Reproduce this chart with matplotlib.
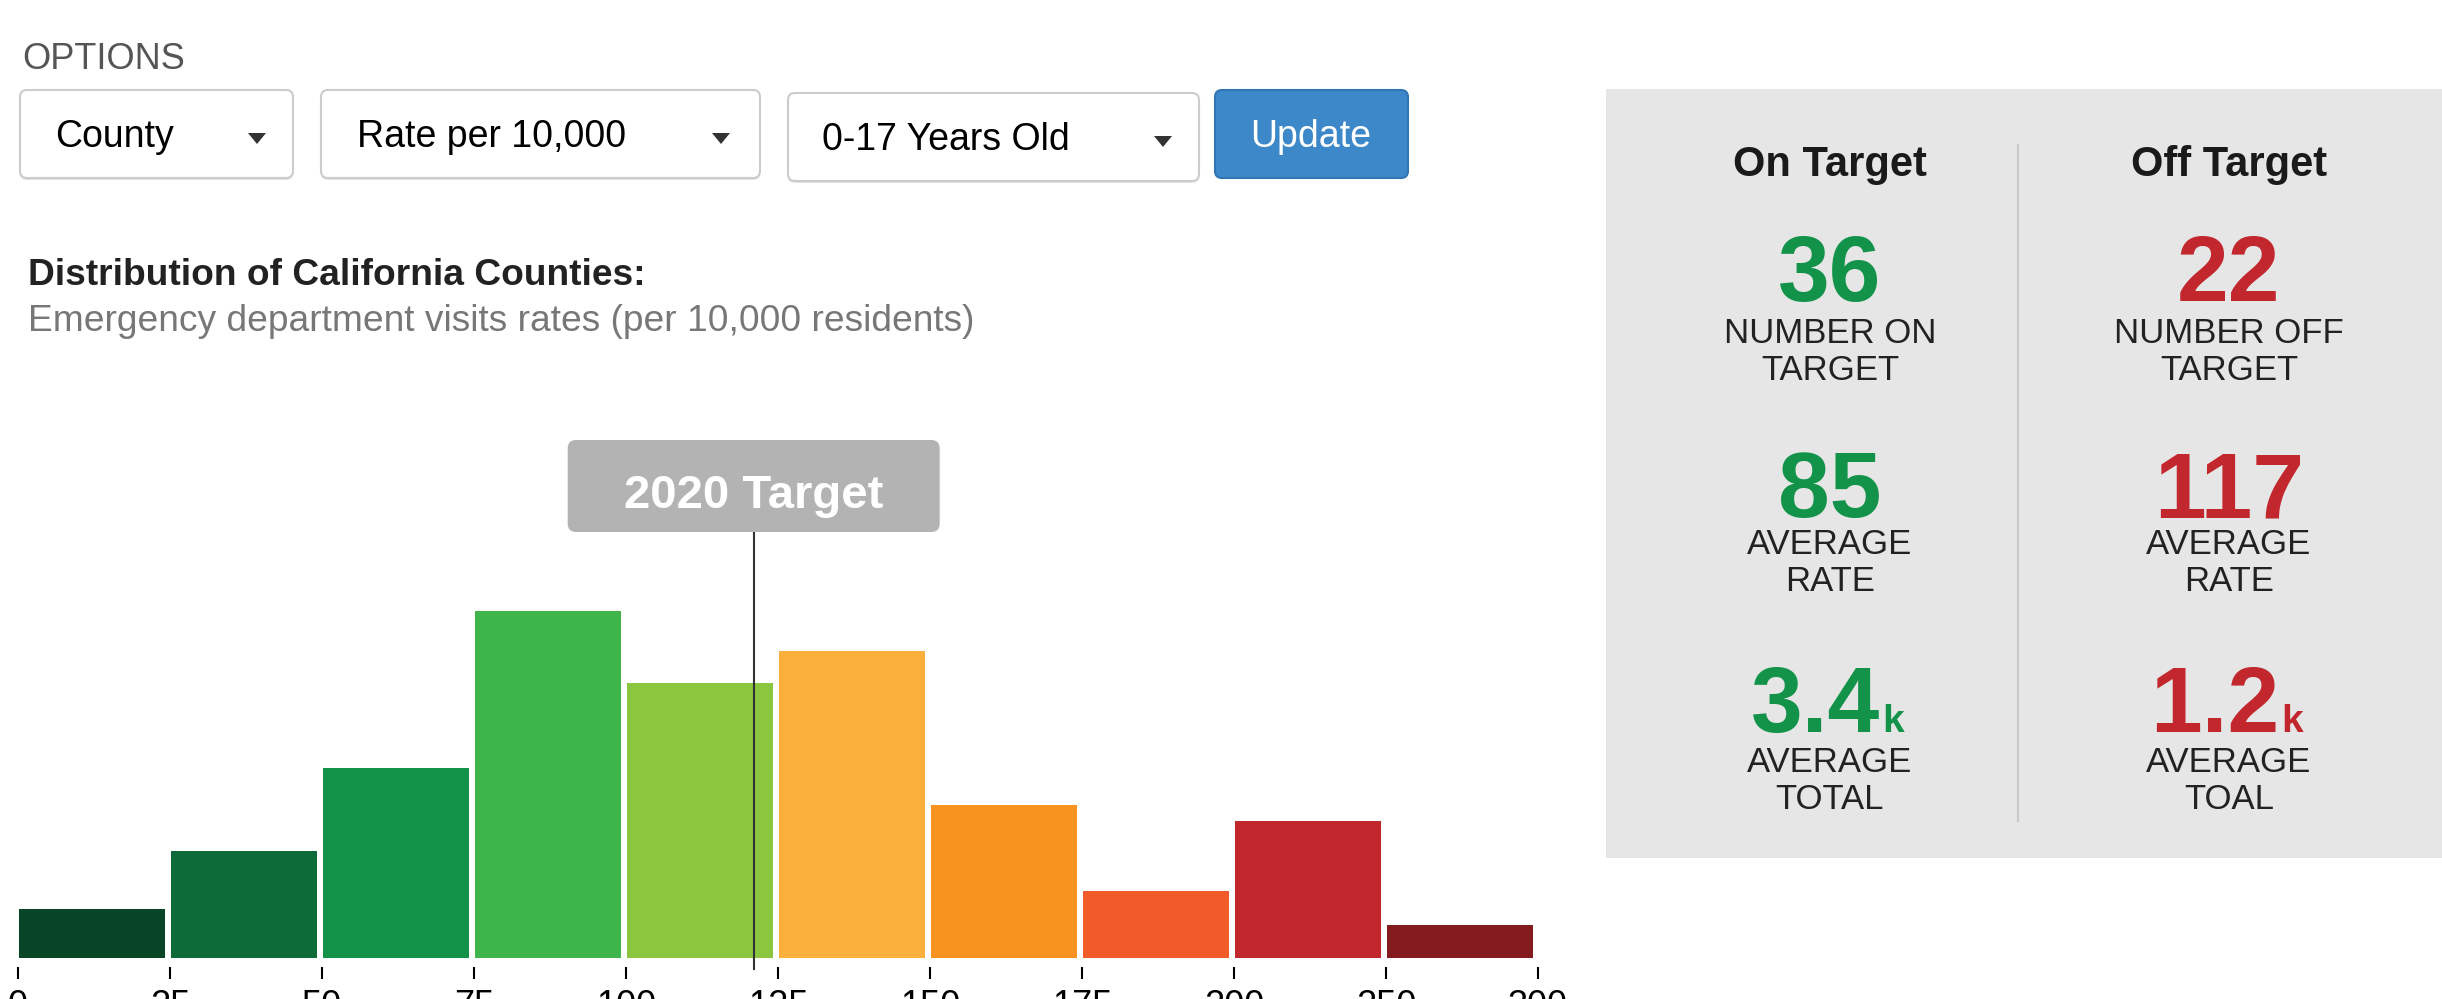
import numpy as np
import matplotlib
matplotlib.use("Agg")
import matplotlib.pyplot as plt
from matplotlib.patches import FancyBboxPatch, Rectangle, Polygon

plt.rcParams['font.family'] = ['Liberation Sans', 'DejaVu Sans']

# histogram of county rates (relative bar heights)
bin_edges = [0, 25, 50, 75, 100, 125, 150, 175, 200, 250, 300]
bar_heights = [4.9, 10.7, 19.0, 34.7, 27.5, 30.7, 15.3, 6.7, 13.7, 3.3]
bar_colors = ['#084527', '#0d6b3a', '#13934a', '#3db54a', '#8cc63f',
              '#fbb03b', '#f7931e', '#f15a29', '#c1272d', '#841b1f']
target_rate = 121
target_label = "2020 Target"

# dropdowns
dropdown_labels = ["County", "Rate per 10,000", "0-17 Years Old"]
button_label = "Update"

# summary panel
panel_heads = ["On Target", "Off Target"]
panel_colors = ['#13934a', '#c1272d']
panel_numbers = [["36", "85", "3.4"], ["22", "117", "1.2"]]
panel_suffix = [["", "", "k"], ["", "", "k"]]
panel_captions = [["NUMBER ON\nTARGET", "AVERAGE\nRATE", "AVERAGE\nTOTAL"],
                  ["NUMBER OFF\nTARGET", "AVERAGE\nRATE", "AVERAGE\nTOAL"]]

W, H = 2442, 999
fig = plt.figure(figsize=(W / 100, H / 100), dpi=100)

# overlay axes in pixel units for the page furniture
ui = fig.add_axes([0, 0, 1, 1])
ui.set_xlim(0, W)
ui.set_ylim(H, 0)
ui.axis('off')

ui.text(22, 69, "OPTIONS", fontsize=26, color='#555555', va='baseline')

boxes = [(20, 90, 273, 88), (321, 90, 439, 88), (788, 93, 411, 88)]
text_x = [55, 357, 822]
tri_x = [257, 721, 1163]
for (x0, y0, w, h), lab, tx, trx in zip(boxes, dropdown_labels, text_x, tri_x):
    ui.add_patch(FancyBboxPatch((x0, y0 + 2), w, h, boxstyle='round,pad=0,rounding_size=7',
                                fc='#e4e4e4', ec='none'))
    ui.add_patch(FancyBboxPatch((x0, y0), w, h, boxstyle='round,pad=0,rounding_size=7',
                                fc='white', ec='#cccccc', lw=1.5))
    ui.text(tx, y0 + 57, lab, fontsize=27, color='black', va='baseline')
    cy = y0 + h / 2 + 4
    ui.add_patch(Polygon([[trx - 9, cy - 5], [trx + 9, cy - 5], [trx, cy + 6]],
                         closed=True, fc='#333333', ec='none'))

ui.add_patch(FancyBboxPatch((1215, 90), 193, 88, boxstyle='round,pad=0,rounding_size=7',
                            fc='#3d88c9', ec='#3176b4', lw=1.5))
ui.text(1311, 147, button_label, fontsize=27, color='white', ha='center', va='baseline')

ui.text(28, 285, "Distribution of California Counties:", fontsize=26.7,
        fontweight='bold', color='#222222', va='baseline')
ui.text(28, 331, "Emergency department visits rates (per 10,000 residents)",
        fontsize=26.7, color='#777777', va='baseline')

# summary panel
ui.add_patch(Rectangle((1606, 89), W - 1606, 769, fc='#e6e6e6', ec='none'))
ui.plot([2018, 2018], [145, 821], color='#c8c8c8', lw=1.5)
col_x = [1830, 2229]
num_base = [301, 517, 732]
cap_base = [343, 554, 772]
for c in range(2):
    ui.text(col_x[c], 176, panel_heads[c], fontsize=30, fontweight='bold',
            color='#1a1a1a', ha='center', va='baseline')
    for r in range(3):
        num = panel_numbers[c][r]
        suf = panel_suffix[c][r]
        if suf:
            ui.text(col_x[c] + 50, num_base[r], num, fontsize=67, fontweight='bold',
                    color=panel_colors[c], ha='right', va='baseline')
            ui.text(col_x[c] + 52, num_base[r], suf, fontsize=28, fontweight='bold',
                    color=panel_colors[c], ha='left', va='baseline')
        else:
            ui.text(col_x[c], num_base[r], num, fontsize=67, fontweight='bold',
                    color=panel_colors[c], ha='center', va='baseline')
        line1, line2 = panel_captions[c][r].split("\n")
        ui.text(col_x[c], cap_base[r], line1, fontsize=25, color='#222222',
                ha='center', va='baseline')
        ui.text(col_x[c], cap_base[r] + 37, line2, fontsize=25, color='#222222',
                ha='center', va='baseline')

# histogram axes
ax = fig.add_axes([18 / W, 1 - 958 / H, 1520 / W, 518 / H])
ax.patch.set_alpha(0)
n = len(bar_heights)
pos = np.arange(n) + 0.485
ax.bar(pos, bar_heights, width=0.96, color=bar_colors, edgecolor='none')
ax.set_xlim(0, n)
ax.set_ylim(0, 51.8)
ax.set_yticks([])
ax.set_xticks(np.arange(n + 1))
ax.set_xticklabels([str(e) for e in bin_edges])
for s in ['top', 'left', 'right']:
    ax.spines[s].set_visible(False)
ax.spines['bottom'].set_position(('outward', 6.5))
ax.spines['bottom'].set_edgecolor('none')
ax.tick_params(axis='x', length=8.6, width=1.5, color='black', pad=7.5,
               labelsize=26, labelcolor='black')

tpos = np.interp(target_rate, bin_edges, np.arange(n + 1))
ax.plot([tpos, tpos], [-1.1, 42.6], color='#333333', lw=1.5, clip_on=False, zorder=3)
box_w = 372 / 152
ax.add_patch(FancyBboxPatch((tpos - box_w / 2, 42.6), box_w, 9.2,
                            boxstyle='round,pad=0,rounding_size=0.055',
                            mutation_aspect=152 / 10, fc='#b3b3b3', ec='none',
                            clip_on=False, zorder=4))
ax.text(tpos, 45.0, target_label, fontsize=34, fontweight='bold', color='white',
        ha='center', va='baseline', zorder=5)

fig.savefig("out.png", dpi=100)
